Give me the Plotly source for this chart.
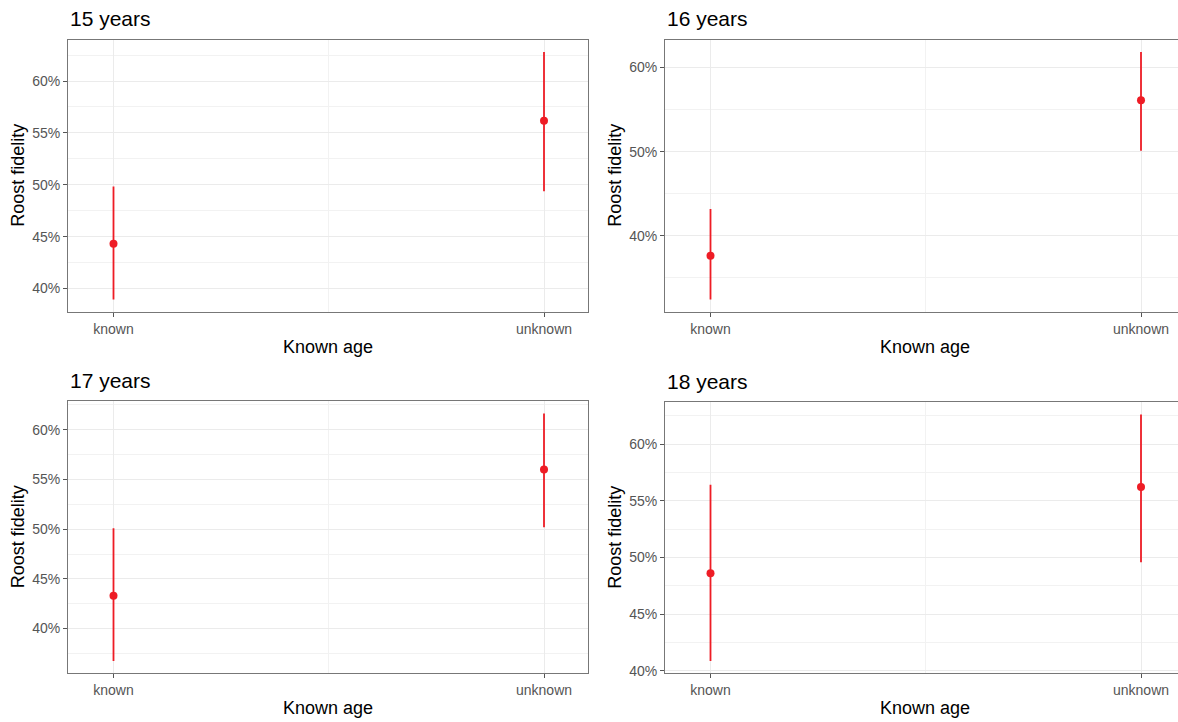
import plotly.graph_objects as go

categories = ["known", "unknown"]
panel_titles = ["15 years", "16 years", "17 years", "18 years"]
estimate = [[0.4433, 0.5617], [0.3761, 0.5610], [0.4331, 0.5600], [0.4861, 0.5622]]
lower = [[0.3895, 0.4937], [0.3241, 0.5010], [0.3674, 0.5020], [0.4087, 0.4957]]
upper = [[0.4984, 0.6279], [0.4317, 0.6184], [0.5010, 0.6163], [0.5642, 0.6261]]
y_dtick = [0.05, 0.10, 0.05, 0.05]

W, H = 1178, 722
# panel boxes in pixels: left, right, top, bottom
boxes = [(68, 588, 40, 314), (665, 1178, 40, 314), (68, 588, 404, 678), (665, 1178, 405, 678)]
cropped = [False, True, False, True]
UNIT_PX = 430.5      # pixels between the two categories
X_LEFT = -0.1057     # left end of the discrete axis range

RED = "#EE1C25"
FONT = "Arial, Liberation Sans, sans-serif"

fig = go.Figure()
layout = dict(width=W, height=H, margin=dict(l=0, r=0, t=0, b=0), autosize=False,
              plot_bgcolor="white", paper_bgcolor="white", showlegend=False,
              font=dict(family=FONT))
annotations = []
xs = list(range(len(categories)))

for i in range(4):
    L, R, T, B = boxes[i]
    sfx = "" if i == 0 else str(i + 1)
    est = estimate[i]
    lo = lower[i]
    hi = upper[i]
    fig.add_trace(go.Scatter(
        x=xs, y=est, mode="markers",
        marker=dict(color=RED, size=8),
        error_y=dict(type="data", symmetric=False,
                     array=[h - e for h, e in zip(hi, est)],
                     arrayminus=[e - l for e, l in zip(est, lo)],
                     color=RED, thickness=1.8, width=0),
        xaxis="x" + sfx, yaxis="y" + sfx))
    dmin, dmax = min(lo), max(hi)
    pad = 0.05 * (dmax - dmin)
    xr0 = X_LEFT
    xr1 = xr0 + (R - L) / UNIT_PX
    layout["xaxis" + sfx] = dict(
        domain=[L / W, R / W], anchor="y" + sfx, range=[xr0, xr1],
        tickvals=xs, ticktext=categories, showgrid=True, gridcolor="#EBEBEB", gridwidth=1,
        minor=dict(tickvals=[0.5], showgrid=True, gridcolor="#F2F2F2", gridwidth=0.8, ticklen=0),
        showline=True, linecolor="#777777", linewidth=1, mirror=True,
        ticks="outside", ticklen=4, tickcolor="#555555", tickwidth=1,
        tickfont=dict(size=14, color="#555555", family=FONT), zeroline=False, fixedrange=True)
    layout["yaxis" + sfx] = dict(
        domain=[1 - B / H, 1 - T / H], anchor="x" + sfx, range=[dmin - pad, dmax + pad],
        dtick=y_dtick[i], tick0=0, tickformat=".0%", showgrid=True, gridcolor="#EBEBEB", gridwidth=1,
        minor=dict(dtick=y_dtick[i] / 2, tick0=0, showgrid=True, gridcolor="#F2F2F2", gridwidth=0.8, ticklen=0),
        showline=True, linecolor="#777777", linewidth=1, mirror=not cropped[i],
        ticks="outside", ticklen=4, tickcolor="#555555", tickwidth=1,
        tickfont=dict(size=14, color="#555555", family=FONT), zeroline=False, fixedrange=True)
    # panel title
    annotations.append(dict(text=panel_titles[i], x=L / W, y=1 - (T - 21) / H, xref="paper", yref="paper",
                            xanchor="left", yanchor="middle", showarrow=False,
                            font=dict(size=21, color="black", family=FONT)))
    # x axis title, centred on the full (uncropped) panel
    full_right = L + (588 - 68)
    xcenter = (L + full_right) / 2
    annotations.append(dict(text="Known age", x=xcenter / W, y=1 - (B + 35) / H, xref="paper", yref="paper",
                            xanchor="center", yanchor="middle", showarrow=False,
                            font=dict(size=18, color="black", family=FONT)))
    # y axis title
    annotations.append(dict(text="Roost fidelity", x=(L - 50) / W, y=1 - ((T + B) / 2) / H,
                            xref="paper", yref="paper", textangle=-90,
                            xanchor="center", yanchor="middle", showarrow=False,
                            font=dict(size=18, color="black", family=FONT)))

layout["annotations"] = annotations
fig.update_layout(**layout)
fig.write_html("out.html")
